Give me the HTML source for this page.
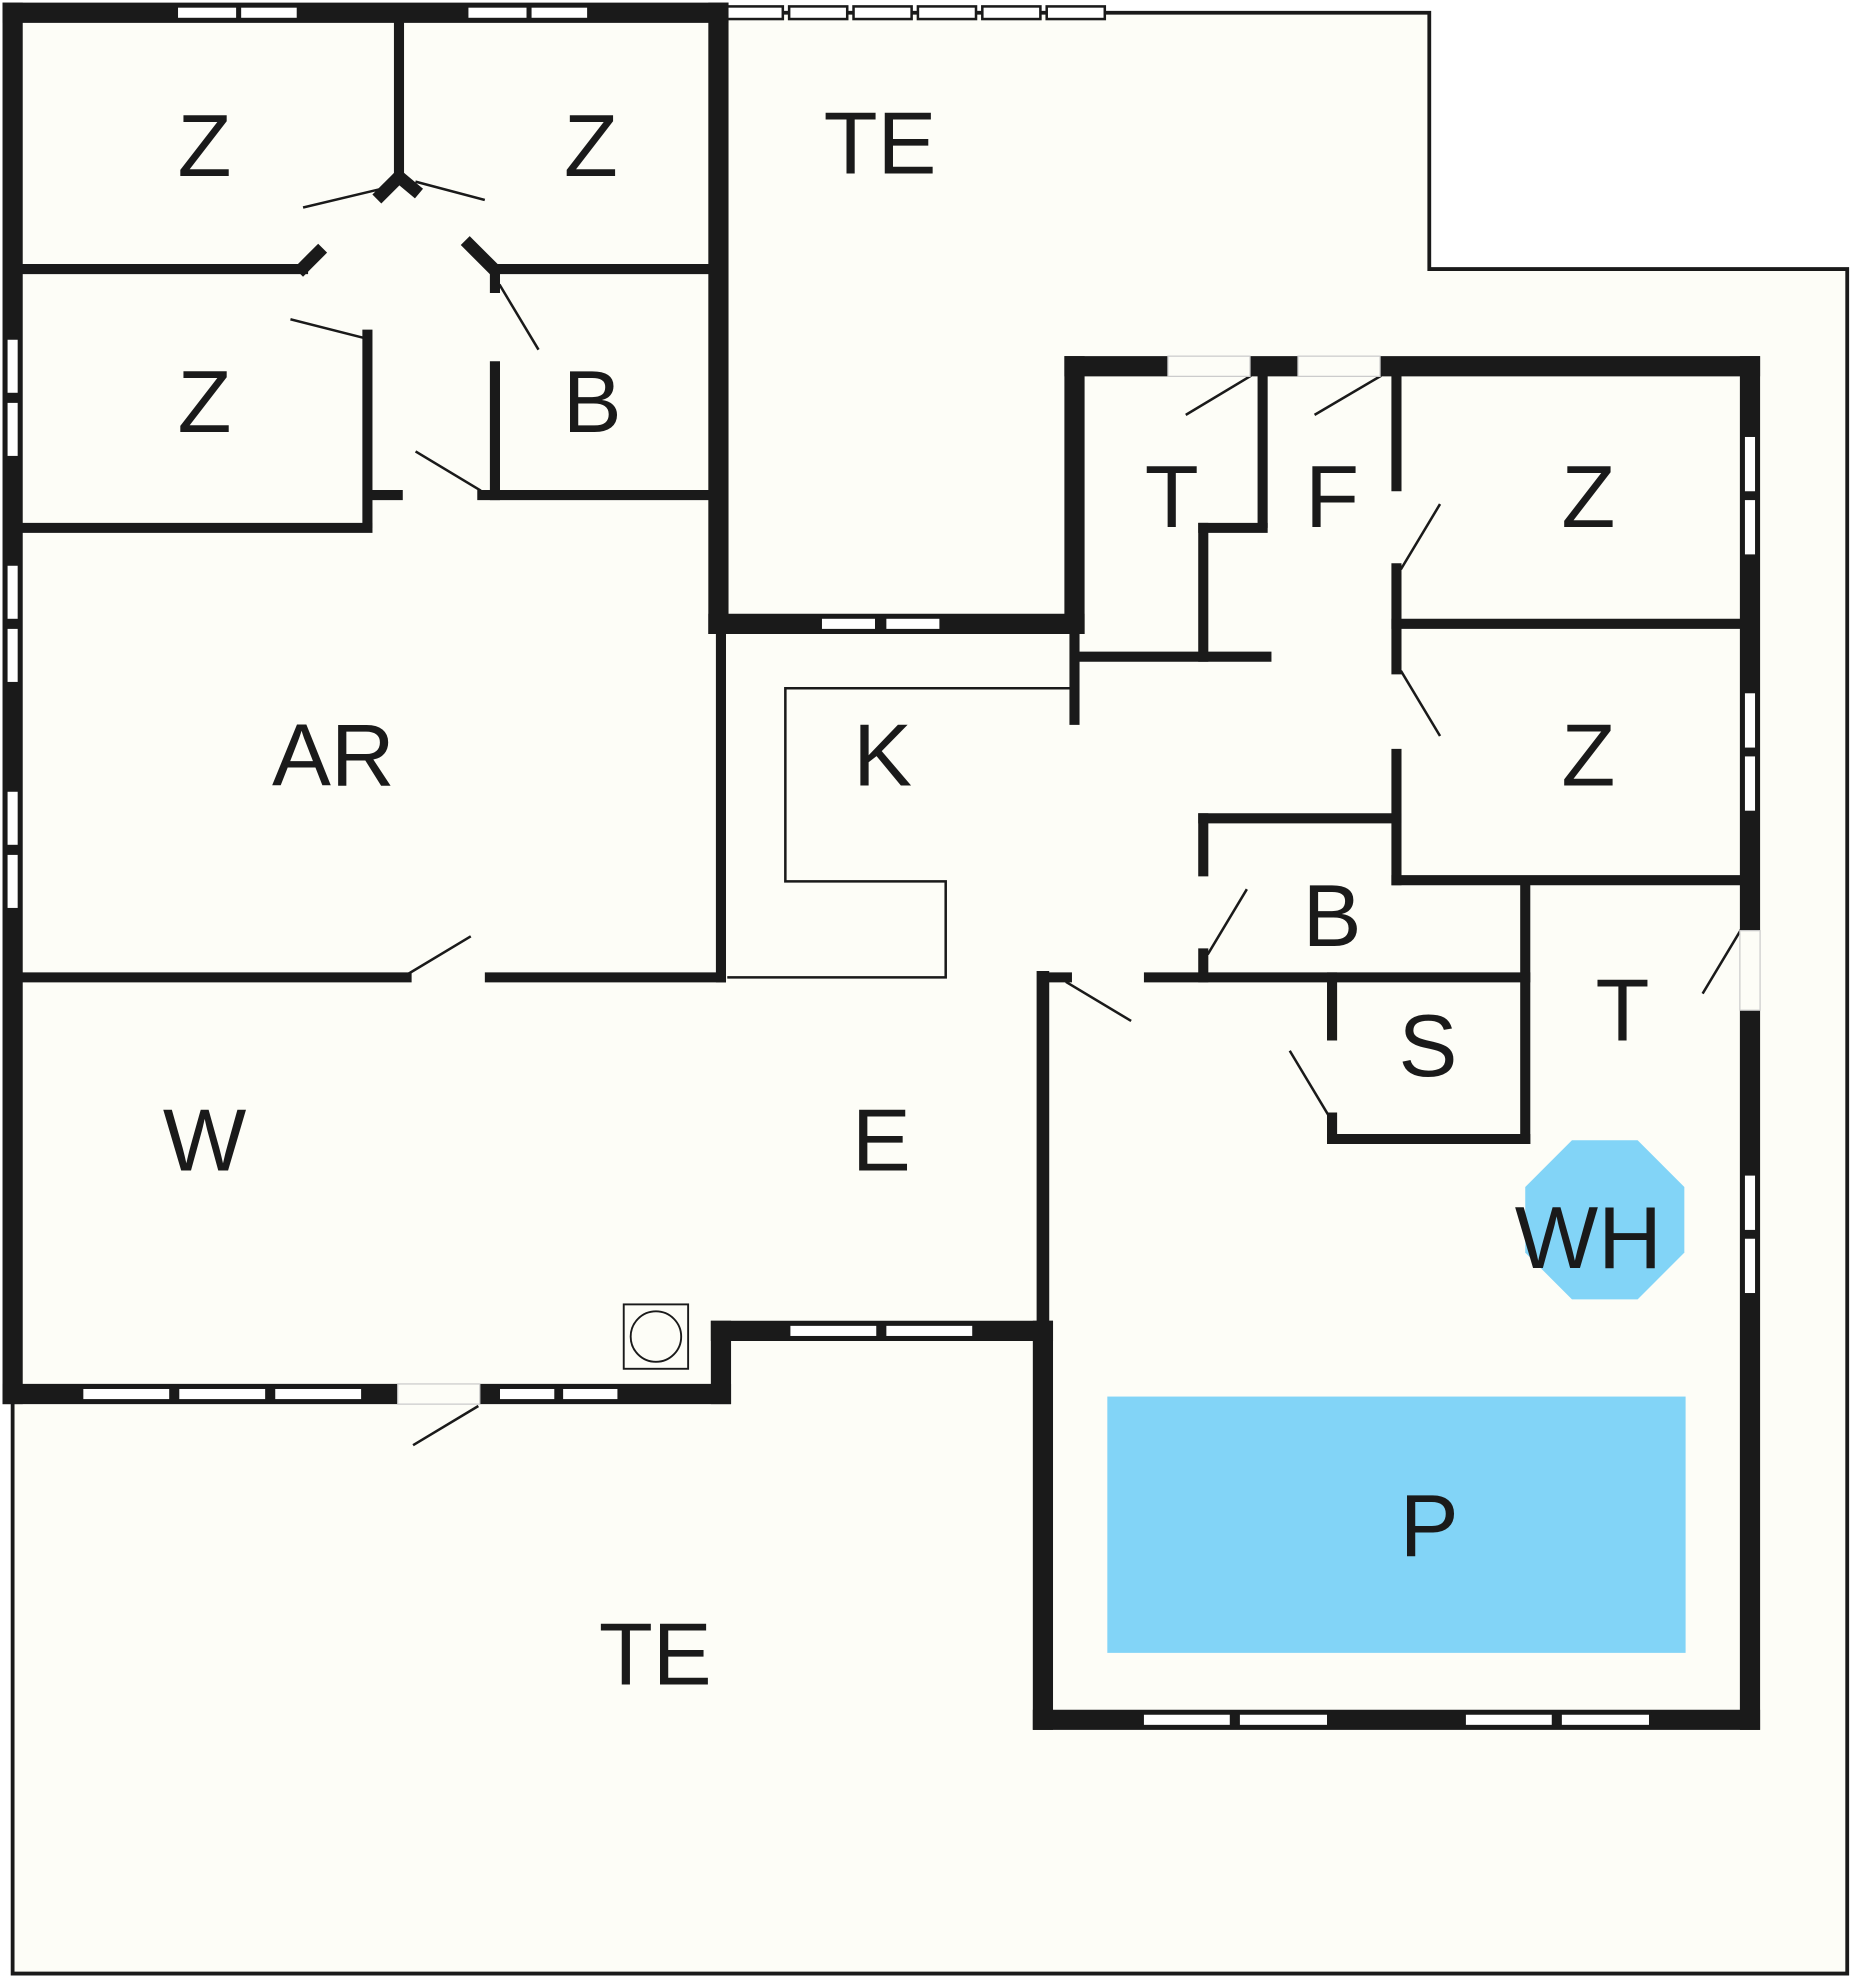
<!DOCTYPE html>
<html><head><meta charset="utf-8"><style>
html,body{margin:0;padding:0;background:#fff;}
svg{display:block;}
text{font-family:"Liberation Sans",sans-serif;font-size:70px;fill:#1a1a1a;text-anchor:middle;dominant-baseline:central;}
</style></head><body>
<svg width="1851" height="1980" viewBox="0 0 1466 1568" xmlns="http://www.w3.org/2000/svg">
<rect width="1466" height="1568" fill="#fff"/>
<polygon points="10,10 1132,10 1132,213 1463,213 1463,1563 10,1563" fill="#fdfdf7" stroke="#1a1a1a" stroke-width="3"/>
<rect x="877" y="1106" width="458" height="203" fill="#82d4f7"/>
<polygon points="1245,903 1297,903 1334,940 1334,992 1297,1029 1245,1029 1208,992 1208,940" fill="#82d4f7"/>
<g stroke="#1a1a1a" fill="none" stroke-linecap="square">
<line x1="10" y1="10" x2="569" y2="10" stroke-width="16"/>
<line x1="10" y1="10" x2="10" y2="1104" stroke-width="16"/>
<line x1="569" y1="10" x2="569" y2="494" stroke-width="16"/>
<line x1="569" y1="494" x2="851" y2="494" stroke-width="16"/>
<line x1="851" y1="290" x2="851" y2="494" stroke-width="16"/>
<line x1="851" y1="290" x2="1386" y2="290" stroke-width="16"/>
<line x1="1386" y1="290" x2="1386" y2="1362" stroke-width="16"/>
<line x1="826" y1="1362" x2="1386" y2="1362" stroke-width="16"/>
<line x1="826" y1="1054" x2="826" y2="1362" stroke-width="16"/>
<line x1="826" y1="774" x2="826" y2="1048" stroke-width="10"/>
<line x1="571" y1="1054" x2="826" y2="1054" stroke-width="16"/>
<line x1="571" y1="1054" x2="571" y2="1104" stroke-width="16"/>
<line x1="10" y1="1104" x2="571" y2="1104" stroke-width="16"/>
<line x1="18" y1="213" x2="240" y2="213" stroke-width="8"/>
<line x1="392" y1="213" x2="561" y2="213" stroke-width="8"/>
<line x1="316" y1="18" x2="316" y2="140" stroke-width="8"/>
<line x1="316" y1="140" x2="302" y2="154" stroke-width="10"/>
<line x1="316" y1="140" x2="328" y2="150" stroke-width="10"/>
<line x1="240" y1="212" x2="252" y2="200" stroke-width="10"/>
<line x1="372" y1="194" x2="392" y2="214" stroke-width="10"/>
<line x1="291" y1="265" x2="291" y2="414" stroke-width="8"/>
<line x1="18" y1="418" x2="291" y2="418" stroke-width="8"/>
<line x1="392" y1="290" x2="392" y2="392" stroke-width="8"/>
<line x1="392" y1="218" x2="392" y2="228" stroke-width="8"/>
<line x1="295" y1="392" x2="315" y2="392" stroke-width="8"/>
<line x1="382" y1="392" x2="561" y2="392" stroke-width="8"/>
<line x1="18" y1="774" x2="322" y2="774" stroke-width="8"/>
<line x1="388" y1="774" x2="571" y2="774" stroke-width="8"/>
<line x1="571" y1="502" x2="571" y2="774" stroke-width="8"/>
<line x1="851" y1="502" x2="851" y2="570" stroke-width="8"/>
<line x1="1000" y1="294" x2="1000" y2="414" stroke-width="8"/>
<line x1="953" y1="418" x2="1000" y2="418" stroke-width="8"/>
<line x1="953" y1="418" x2="953" y2="520" stroke-width="8"/>
<line x1="855" y1="520" x2="1003" y2="520" stroke-width="8"/>
<line x1="1106" y1="294" x2="1106" y2="385" stroke-width="8"/>
<line x1="1106" y1="450" x2="1106" y2="530" stroke-width="8"/>
<line x1="1106" y1="597" x2="1106" y2="697" stroke-width="8"/>
<line x1="1106" y1="494" x2="1380" y2="494" stroke-width="8"/>
<line x1="1106" y1="697" x2="1380" y2="697" stroke-width="8"/>
<line x1="953" y1="648" x2="1106" y2="648" stroke-width="8"/>
<line x1="953" y1="648" x2="953" y2="690" stroke-width="8"/>
<line x1="953" y1="755" x2="953" y2="774" stroke-width="8"/>
<line x1="826" y1="774" x2="845" y2="774" stroke-width="8"/>
<line x1="910" y1="774" x2="1208" y2="774" stroke-width="8"/>
<line x1="1208" y1="700" x2="1208" y2="902" stroke-width="8"/>
<line x1="1055" y1="774" x2="1055" y2="820" stroke-width="8"/>
<line x1="1055" y1="885" x2="1055" y2="902" stroke-width="8"/>
<line x1="1055" y1="902" x2="1208" y2="902" stroke-width="8"/>
<polyline points="848,545 622,545 622,698 749,698 749,774 577,774" stroke-width="2"/>
<g stroke-width="2">
<line x1="241" y1="164" x2="300" y2="150"/>
<line x1="383" y1="158" x2="330" y2="144"/>
<line x1="231" y1="253" x2="290" y2="268"/>
<line x1="396" y1="226" x2="426" y2="276"/>
<line x1="330" y1="358" x2="380" y2="388"/>
<line x1="322" y1="772" x2="372" y2="742"/>
<line x1="940" y1="328" x2="990" y2="298"/>
<line x1="1042" y1="328" x2="1093" y2="298"/>
<line x1="1110" y1="450" x2="1140" y2="400"/>
<line x1="1110" y1="532" x2="1140" y2="582"/>
<line x1="957" y1="755" x2="987" y2="705"/>
<line x1="845" y1="778" x2="895" y2="808"/>
<line x1="1052" y1="883" x2="1022" y2="833"/>
<line x1="1349" y1="786" x2="1379" y2="736"/>
<line x1="328" y1="1144" x2="378" y2="1114"/>
</g>
<rect x="494" y="1033" width="51" height="51" stroke-width="1.5"/>
<circle cx="519.5" cy="1058.5" r="20" stroke-width="1.5"/>
</g>
<g fill="#fff" stroke="#1a1a1a" stroke-width="2">
<rect x="140" y="5" width="48" height="10"/><rect x="190" y="5" width="46" height="10"/>
<rect x="370" y="5" width="48" height="10"/><rect x="420" y="5" width="46" height="10"/>
<rect x="576" y="5" width="44" height="10"/><rect x="625" y="5" width="46" height="10"/><rect x="676" y="5" width="46" height="10"/><rect x="727" y="5" width="46" height="10"/><rect x="778" y="5" width="46" height="10"/><rect x="829" y="5" width="46" height="10"/>
<rect x="5" y="268" width="10" height="44"/><rect x="5" y="318" width="10" height="44"/>
<rect x="5" y="447" width="10" height="44"/><rect x="5" y="497" width="10" height="44"/>
<rect x="5" y="626" width="10" height="44"/><rect x="5" y="676" width="10" height="44"/>
<rect x="650" y="489" width="44" height="10"/><rect x="701" y="489" width="44" height="10"/>
<rect x="1381" y="345" width="10" height="45"/><rect x="1381" y="395" width="10" height="45"/>
<rect x="1381" y="548" width="10" height="45"/><rect x="1381" y="598" width="10" height="45"/>
<rect x="1381" y="930" width="10" height="45"/><rect x="1381" y="980" width="10" height="45"/>
<rect x="625" y="1049" width="70" height="10"/><rect x="701" y="1049" width="70" height="10"/>
<rect x="65" y="1099" width="70" height="10"/><rect x="141" y="1099" width="70" height="10"/><rect x="217" y="1099" width="70" height="10"/>
<rect x="395" y="1099" width="45" height="10"/><rect x="445" y="1099" width="45" height="10"/>
<rect x="905" y="1357" width="70" height="10"/><rect x="981" y="1357" width="71" height="10"/>
<rect x="1160" y="1357" width="70" height="10"/><rect x="1236" y="1357" width="71" height="10"/>
</g>
<g fill="#fdfdf7" stroke="#ccc" stroke-width="1">
<rect x="925" y="282" width="65" height="16"/><rect x="1028" y="282" width="65" height="16"/>
<rect x="1378" y="737" width="16" height="63"/>
<rect x="315" y="1096" width="65" height="16"/>
</g>
<text x="162" y="115">Z</text><text x="468" y="115">Z</text><text x="697" y="113">TE</text>
<text x="162" y="318">Z</text><text x="469" y="318">B</text>
<text x="928" y="393">T</text><text x="1055" y="393">F</text><text x="1258" y="393">Z</text>
<text x="264" y="598">AR</text><text x="699" y="598">K</text><text x="1258" y="598">Z</text>
<text x="1055" y="725">B</text><text x="1131" y="828">S</text><text x="1285" y="800">T</text>
<text x="162" y="903">W</text><text x="698" y="903">E</text><text x="1258" y="980">WH</text>
<text x="1132" y="1208">P</text><text x="519" y="1310">TE</text>
</svg>
</body></html>
